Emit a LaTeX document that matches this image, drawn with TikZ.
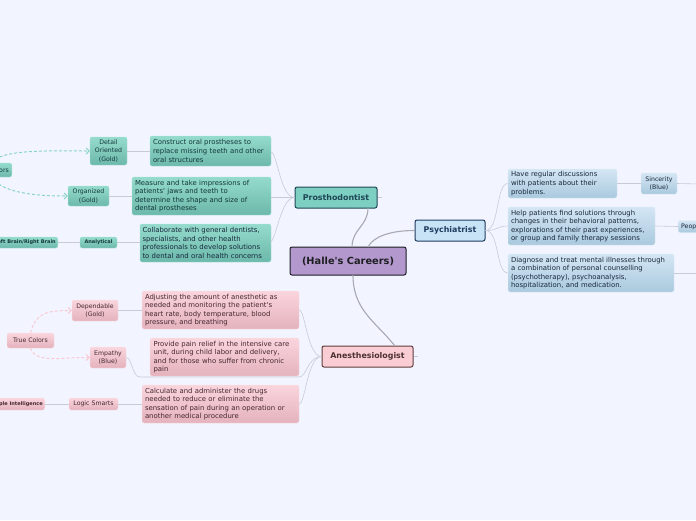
\documentclass[tikz,border=0pt]{standalone}
\usepackage{fontspec}
\setmainfont{DejaVu Sans}
\usetikzlibrary{calc,arrows.meta}
\definecolor{bg}{RGB}{242,245,255}
\definecolor{tealT}{RGB}{148,219,205}
\definecolor{tealB}{RGB}{108,184,170}
\definecolor{tealTxt}{RGB}{20,55,58}
\definecolor{pinkT}{RGB}{250,213,221}
\definecolor{pinkB}{RGB}{228,178,189}
\definecolor{pinkTxt}{RGB}{70,40,48}
\definecolor{blueT}{RGB}{212,230,244}
\definecolor{blueB}{RGB}{170,201,222}
\definecolor{blueTxt}{RGB}{25,40,60}
\definecolor{prothF}{RGB}{125,207,194}
\definecolor{prothD}{RGB}{30,70,85}
\definecolor{cenF}{RGB}{178,152,204}
\definecolor{cenD}{RGB}{30,30,34}
\definecolor{psyF}{RGB}{200,226,246}
\definecolor{psyD}{RGB}{30,60,95}
\definecolor{aneF}{RGB}{250,205,213}
\definecolor{aneD}{RGB}{95,60,62}
\definecolor{lnk}{RGB}{200,202,212}
\definecolor{mainlnk}{RGB}{168,168,176}
\definecolor{tdash}{RGB}{140,212,200}
\definecolor{pdash}{RGB}{249,200,210}
\newcommand\fsbox{\fontsize{6.9}{8.6}\selectfont}
\newcommand\fstrait{\fontsize{6.2}{8.3}\selectfont}
\newcommand\fssmall{\fontsize{5}{6}\selectfont\bfseries}
\newcommand\apos{\textquotesingle}
\tikzset{
  tbox/.style={rounded corners=2pt, inner sep=0pt, align=left, font=\fsbox},
  tealbox/.style={tbox, top color=tealT, bottom color=tealB, text=tealTxt, draw=tealT!80!white, line width=0.4pt},
  pinkbox/.style={tbox, top color=pinkT, bottom color=pinkB, text=pinkTxt, draw=pinkT!80!white, line width=0.4pt},
  bluebox/.style={tbox, top color=blueT, bottom color=blueB, text=blueTxt, draw=blueT!80!white, line width=0.4pt},
  trait/.style={align=center, font=\fstrait, inner sep=0pt},
  smalltrait/.style={align=center, font=\fssmall, inner sep=2pt, minimum height=11pt},
  mainnode/.style={rounded corners=2pt, line width=1pt, inner sep=0pt, font=\fontsize{7.9}{9}\selectfont\bfseries},
  lk/.style={draw=lnk, line width=0.6pt},
  mlk/.style={draw=mainlnk, line width=1.1pt},
  tarrow/.style={draw=tdash, line width=1pt, dash pattern=on 3pt off 2pt, -{Straight Barb[length=3pt,width=6pt]}},
  parrow/.style={draw=pdash, line width=1pt, dash pattern=on 3pt off 2pt, -{Straight Barb[length=3pt,width=6pt]}},
}
\begin{document}
\begin{tikzpicture}[x=1pt,y=-1pt]
\useasboundingbox (0,0) rectangle (696,520);
\fill[bg] (0,0) rectangle (696,520);
\clip (0,0) rectangle (696,520);

% main nodes
\node[mainnode, fill=cenF, draw=cenD, text=cenD, minimum width=116pt, minimum height=28pt, font=\fontsize{9.8}{11}\selectfont\bfseries] (cen) at (348,261) {(Halle\apos s Careers)};
\node[mainnode, fill=prothF, draw=prothD, text=prothD, minimum width=82pt, minimum height=21pt] (pro) at (336,197.5) {Prosthodontist};
\node[mainnode, fill=psyF, draw=psyD, text=psyD, minimum width=70pt, minimum height=21pt] (psy) at (450,230.5) {Psychiatrist};
\node[mainnode, fill=aneF, draw=aneD, text=aneD!80!black, minimum width=91pt, minimum height=21pt] (ane) at (367.5,356.5) {Anesthesiologist};

% Prosthodontist boxes
\node[tealbox, minimum width=121pt, minimum height=30pt, text width=115pt] (c1) at (210.5,151) {Construct oral prostheses to\\replace missing teeth and other\\oral structures};
\node[tealbox, minimum width=139pt, minimum height=38pt, text width=133pt] (c2) at (201.5,196) {Measure and take impressions of\\patients\apos\ jaws and teeth to\\determine the shape and size of\\dental prostheses};
\node[tealbox, minimum width=131pt, minimum height=38pt, text width=126pt, text=blueTxt] (c3) at (205.5,243) {Collaborate with general dentists,\\specialists, and other health\\professionals to develop solutions\\to dental and oral health concerns};

\node[trait, tealbox, align=center, font=\fstrait, minimum width=37pt, minimum height=28pt] (do) at (108.5,151) {Detail\\Oriented\\(Gold)};
\node[trait, tealbox, align=center, font=\fstrait, minimum width=41pt, minimum height=20pt] (og) at (88.5,196) {Organized\\(Gold)};
\node[tealbox, smalltrait, minimum width=37pt] (an) at (98.5,242.5) {Analytical};
\node[tealbox, smalltrait, anchor=east] (lb) at (58,242.5) {Left Brain/Right Brain};
\node[tealbox, align=center, font=\fstrait, inner sep=3pt, minimum height=14pt, anchor=east] (tc1) at (12,170) {True Colors};

% Anesthesiologist boxes
\node[pinkbox, minimum width=157pt, minimum height=38pt, text width=151pt] (a1) at (220.5,310) {Adjusting the amount of anesthetic as\\needed and monitoring the patient\apos s\\heart rate, body temperature, blood\\pressure, and breathing};
\node[pinkbox, minimum width=149pt, minimum height=38pt, text width=142pt] (a2) at (224.5,357) {Provide pain relief in the intensive care\\unit, during child labor and delivery,\\and for those who suffer from chronic\\pain};
\node[pinkbox, minimum width=157pt, minimum height=38pt, text width=151pt] (a3) at (220.5,404) {Calculate and administer the drugs\\needed to reduce or eliminate the\\sensation of pain during an operation or\\another medical procedure};

\node[pinkbox, align=center, font=\fstrait, minimum width=46pt, minimum height=21pt] (dp) at (95,310.5) {Dependable\\(Gold)};
\node[pinkbox, align=center, font=\fstrait, minimum width=36pt, minimum height=21pt] (em) at (108,357.5) {Empathy\\(Blue)};
\node[pinkbox, align=center, font=\fstrait, minimum width=49pt, minimum height=12pt] (ls) at (93.5,404) {Logic Smarts};
\node[pinkbox, smalltrait, anchor=east, minimum height=12pt] (mi) at (45,404) {Multiple Intelligence};
\node[pinkbox, align=center, font=\fstrait, minimum width=47pt, minimum height=15pt] (tc2) at (30.5,340.5) {True Colors};

% Psychiatrist boxes
\node[bluebox, minimum width=109pt, minimum height=29pt, text width=103pt] (p1) at (562.5,183.5) {Have regular discussions\\with patients about their\\problems.};
\node[bluebox, minimum width=147pt, minimum height=38pt, text width=141pt] (p2) at (581.5,226) {Help patients find solutions through\\changes in their behavioral patterns,\\explorations of their past experiences,\\or group and family therapy sessions};
\node[bluebox, minimum width=166pt, minimum height=38pt, text width=160pt] (p3) at (591,273) {Diagnose and treat mental illnesses through\\a combination of personal counselling\\(psychotherapy), psychoanalysis,\\hospitalization, and medication.};

\node[bluebox, align=center, font=\fstrait, minimum width=36pt, minimum height=21pt] (si) at (659,183.5) {Sincerity\\(Blue)};
\node[bluebox, align=left, font=\fstrait, inner sep=3pt, minimum height=11pt, anchor=west] (ps) at (678,226.5) {People Smarts};
\coordinate (off1) at (700,184);
\coordinate (off2) at (700,273);

% main connectors
\coordinate (cnA) at (352,247);
\coordinate (cnB) at (368,247);
\coordinate (cnC) at (353,275);
\coordinate (proS) at (368,208);
\coordinate (aneN) at (395,346);
\draw[mlk] (cnA) .. controls +(0,-18) and +(0,18) .. (proS);
\draw[mlk] (cnB) .. controls +(5,-10) and +(-25,0) .. (psy.west);
\draw[mlk] (cnC) .. controls +(0,35) and +(-20,-25) .. (aneN);

% stubs
\draw[lk] (pro.east) -- +(4,0);
\draw[lk] (ane.east) -- +(4,0);

% Prosthodontist links
\coordinate (c1e) at (271,152);
\coordinate (c3e) at (270,242);
\draw[lk] (pro.west) .. controls +(-14,0) and +(6,0) .. (c1e);
\draw[lk] (pro.west) -- (c2.east |- pro.west);
\draw[lk] (pro.west) .. controls +(-14,0) and +(6,0) .. (c3e);
\draw[lk] (c1.west) -- (do.east);
\draw[lk] (c2.west) -- (og.east);
\draw[lk] (c3.west |- an.east) -- (an.east);
\draw[lk] (an.west) -- (lb.east);
\draw[tarrow] (tc1.north) .. controls +(10,-14) and +(-40,0) .. (do.west);
\draw[tarrow] (tc1.south) .. controls +(10,14) and +(-40,0) .. (og.west);

% Anesthesiologist links
\coordinate (prb) at (299,377);
\coordinate (plb) at (140,377);
\draw[lk] (ane.west) .. controls +(-14,0) and +(6,0) .. (a1.east);
\draw[lk] (ane.west) .. controls +(-14,0) and +(8,0) .. (prb) -- (plb) .. controls +(-8,0) and +(6,0) .. (em.east);
\draw[lk] (ane.west) .. controls +(-14,0) and +(6,0) .. (a3.east);
\draw[lk] (a1.west) -- (dp.east |- a1.west);
\draw[lk] (a3.west) -- (ls.east);
\draw[lk] (ls.west) -- (mi.east);
\draw[parrow] (tc2.north) .. controls +(5,-20) and +(-25,0) .. (dp.west);
\draw[parrow] (tc2.south) .. controls +(5,15) and +(-30,0) .. (em.west);

% Psychiatrist links
\draw[lk] (psy.east) .. controls +(14,0) and +(-12,0) .. (p1.west);
\draw[lk] (psy.east) .. controls +(14,0) and +(-12,0) .. (p2.west);
\draw[lk] (psy.east) .. controls +(14,0) and +(-12,0) .. (p3.west);
\draw[lk] (p1.east) -- (si.west);
\draw[lk] (si.east) -- (off1);
\draw[lk] (p2.east) -- (ps.west);
\draw[lk] (p3.east) -- (off2);
\end{tikzpicture}
\end{document}
